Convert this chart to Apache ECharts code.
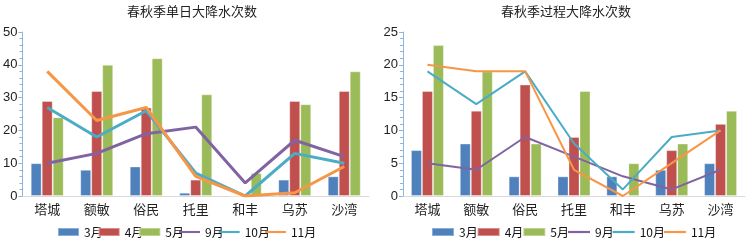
<!DOCTYPE html>
<html>
<head>
<meta charset="utf-8">
<script src="https://cdn.jsdelivr.net/npm/echarts@6/dist/echarts.min.js"></script>
<style>
html, body { margin: 0; padding: 0; background: #fff; }
#main { width: 748px; height: 241px; }
</style>
</head>
<body>
<div id="main"></div>
<script>
var stations = ['塔城', '额敏', '俗民', '托里', '和丰', '乌苏', '沙湾'];
var seriesNames = ['3月', '4月', '5月', '9月', '10月', '11月'];

// 春秋季单日大降水次数
var dayMar = [10, 8, 9, 1, 0, 5, 6];
var dayApr = [29, 32, 27, 5, 0, 29, 32];
var dayMay = [24, 40, 42, 31, 7, 28, 38];
var daySep = [10, 13, 19, 21, 4, 17, 12];
var dayOct = [27, 18, 26, 7, 0, 13, 10];
var dayNov = [38, 23, 27, 6, 0, 1, 9];

// 春秋季过程大降水次数
var procMar = [7, 8, 3, 3, 3, 4, 5];
var procApr = [16, 13, 17, 9, 0, 7, 11];
var procMay = [23, 19, 8, 16, 5, 8, 13];
var procSep = [5, 4, 9, 6, 3, 1, 4];
var procOct = [19, 14, 19, 8, 1, 9, 10];
var procNov = [20, 19, 19, 4, 0, 5, 10];

var colors = ['#4F81BD', '#C0504D', '#9BBB59', '#8064A2', '#4BACC6', '#F79646'];
var cjk = '"Noto Sans CJK SC", sans-serif';

var chart = echarts.init(document.getElementById('main'));

function makeAxes(idx, max, interval) {
    return {
        x: {
            type: 'category',
            gridIndex: idx,
            data: stations,
            axisLine: { lineStyle: { color: '#D9D9D9', width: 1 } },
            axisTick: { show: false },
            axisLabel: { color: '#222', fontSize: 13, fontFamily: cjk, margin: 7 }
        },
        y: {
            type: 'value',
            gridIndex: idx,
            min: 0,
            max: max,
            interval: interval,
            axisLine: { show: true, lineStyle: { color: '#8EB4E3', width: 1 } },
            axisTick: { show: true, length: 4, lineStyle: { color: '#8EB4E3' } },
            minorTick: { show: true, splitNumber: 5, length: 3, lineStyle: { color: '#8EB4E3' } },
            splitLine: { show: false },
            axisLabel: { color: '#222', fontSize: 13, fontFamily: 'Liberation Sans', margin: 5 }
        }
    };
}

function makeSeries(idx, lists, lineW) {
    var out = [];
    for (var i = 0; i < lists.length; i++) {
        var isBar = i < 3;
        var s = {
            name: seriesNames[i],
            type: isBar ? 'bar' : 'line',
            xAxisIndex: idx,
            yAxisIndex: idx,
            data: lists[i],
            itemStyle: { color: colors[i] },
            z: isBar ? 2 : 3
        };
        if (isBar) {
            s.barWidth = 11;
            s.barGap = '0%';
            s.itemStyle.borderColor = 'rgba(255,255,255,0.35)';
            s.itemStyle.borderWidth = 1;
        } else {
            s.symbol = 'none';
            s.lineStyle = { color: colors[i], width: lineW };
        }
        out.push(s);
    }
    return out;
}

function legendData() {
    return seriesNames.map(function (n, i) {
        return {
            name: n,
            icon: i < 3 ? 'rect' : 'path://M0,3.5 L20,3.5 L20,5.5 L0,5.5 Z'
        };
    });
}

var legendText = { fontSize: 12, color: '#111', fontFamily: cjk, lineHeight: 12 };

var a1 = makeAxes(0, 50, 10);
var a2 = makeAxes(1, 25, 5);

var option = {
    animation: false,
    title: [
        { text: '春秋季单日大降水次数', left: 187, top: 0, textAlign: 'center',
          textStyle: { fontSize: 13, fontWeight: 'normal', color: '#222', fontFamily: cjk } },
        { text: '春秋季过程大降水次数', left: 561, top: 0, textAlign: 'center',
          textStyle: { fontSize: 13, fontWeight: 'normal', color: '#222', fontFamily: cjk } }
    ],
    legend: [
        { left: 57, top: 226, padding: 0, itemWidth: 21, itemHeight: 8, itemGap: -5,
          data: legendData(), textStyle: legendText },
        { left: 431, top: 226, padding: 0, itemWidth: 22, itemHeight: 8, itemGap: -1,
          data: legendData(), textStyle: legendText }
    ],
    grid: [
        { left: 19, top: 32, width: 350, height: 164 },
        { left: 403, top: 32, width: 342, height: 164 }
    ],
    xAxis: [a1.x, a2.x],
    yAxis: [a1.y, a2.y],
    series: makeSeries(0, [dayMar, dayApr, dayMay, daySep, dayOct, dayNov], 3)
        .concat(makeSeries(1, [procMar, procApr, procMay, procSep, procOct, procNov], 2))
};

chart.setOption(option);
window.addEventListener('resize', function () { chart.resize(); });
</script>
</body>
</html>
